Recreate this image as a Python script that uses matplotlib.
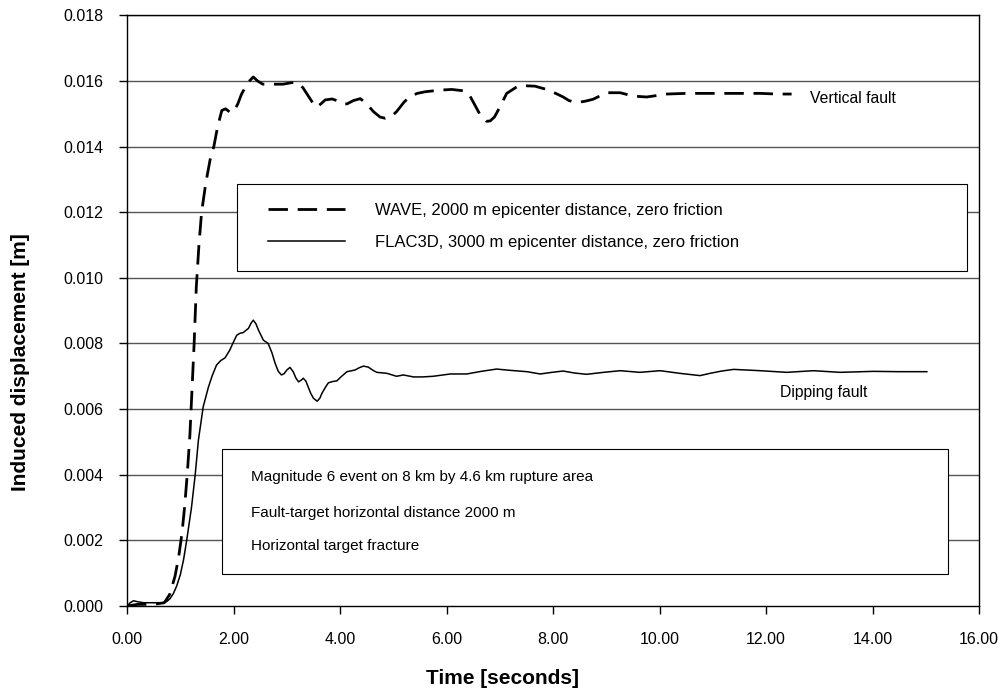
import numpy as np
import matplotlib.pyplot as plt

plt.rcParams['font.family'] = ['Liberation Sans', 'DejaVu Sans']

# WAVE, 2000 m epicenter distance (vertical fault)
wave_t = [0.0, 0.2, 0.5, 0.7, 0.8, 0.9, 0.97, 1.03, 1.08, 1.13, 1.18, 1.22,
          1.26, 1.30, 1.35, 1.40, 1.48, 1.56, 1.63, 1.70, 1.78, 1.85, 1.93,
          2.0, 2.08, 2.15, 2.22, 2.30, 2.37, 2.45, 2.55, 2.7, 2.93, 3.1, 3.2,
          3.3, 3.4, 3.5, 3.56, 3.64, 3.72, 3.85, 3.94, 4.05, 4.13, 4.25, 4.38,
          4.5, 4.63, 4.75, 4.85, 4.95, 5.06, 5.2, 5.31, 5.45, 5.6, 5.88, 6.10,
          6.31, 6.42, 6.50, 6.62, 6.75, 6.82, 6.90, 7.0, 7.13, 7.34, 7.5, 7.66,
          7.88, 8.05, 8.19, 8.3, 8.44, 8.6, 8.75, 9.01, 9.26, 9.45, 9.57, 9.76,
          10.14, 10.5, 10.76, 11.1, 11.38, 11.89, 12.2, 12.48]
wave_d = [0.0, 0.05, 0.05, 0.1, 0.35, 0.9, 1.5, 2.2, 3.0, 4.0, 5.2, 6.6,
          8.0, 9.7, 11.0, 12.0, 12.9, 13.6, 14.0, 14.6, 15.1, 15.15, 15.05,
          15.05, 15.3, 15.6, 15.8, 16.0, 16.12, 16.0, 15.9, 15.9, 15.9, 15.95,
          15.95, 15.8, 15.55, 15.3, 15.2, 15.3, 15.42, 15.45, 15.4, 15.3, 15.3,
          15.4, 15.46, 15.3, 15.06, 14.9, 14.86, 14.9, 15.06, 15.35, 15.52,
          15.62, 15.67, 15.72, 15.74, 15.7, 15.6, 15.36, 15.0, 14.77, 14.78,
          14.9, 15.2, 15.62, 15.84, 15.85, 15.84, 15.74, 15.62, 15.51, 15.4,
          15.34, 15.38, 15.44, 15.64, 15.64, 15.56, 15.53, 15.51, 15.6, 15.62,
          15.62, 15.62, 15.62, 15.62, 15.6, 15.6]

# FLAC3D, 3000 m epicenter distance (dipping fault)
flac_t = [0.0, 0.06, 0.12, 0.2, 0.31, 0.5, 0.68, 0.75, 0.81, 0.87, 0.93, 1.0,
          1.06, 1.12, 1.21, 1.28, 1.34, 1.43, 1.53, 1.60, 1.68, 1.76, 1.84,
          1.93, 2.0, 2.06, 2.12, 2.18, 2.28, 2.33, 2.37, 2.42, 2.47, 2.56,
          2.65, 2.72, 2.78, 2.84, 2.90, 2.95, 3.0, 3.06, 3.12, 3.17, 3.22,
          3.27, 3.31, 3.36, 3.40, 3.45, 3.50, 3.57, 3.62, 3.66, 3.72, 3.78,
          3.86, 3.94, 4.03, 4.13, 4.28, 4.36, 4.44, 4.53, 4.62, 4.69, 4.88,
          5.06, 5.19, 5.38, 5.55, 5.75, 6.07, 6.38, 6.65, 6.94, 7.2, 7.51,
          7.76, 7.98, 8.19, 8.4, 8.63, 8.95, 9.26, 9.63, 10.01, 10.38, 10.76,
          10.95, 11.17, 11.39, 11.89, 12.39, 12.89, 13.39, 14.02, 14.5, 15.02]
flac_d = [0.0, 0.1, 0.16, 0.13, 0.1, 0.1, 0.1, 0.14, 0.23, 0.38, 0.6, 0.95,
          1.4, 2.0, 3.0, 4.0, 5.05, 6.07, 6.68, 7.02, 7.34, 7.48, 7.56,
          7.8, 8.05, 8.25, 8.31, 8.33, 8.46, 8.62, 8.71, 8.6, 8.4, 8.1,
          8.0, 7.72, 7.4, 7.15, 7.04, 7.08, 7.19, 7.27, 7.14, 6.95, 6.83,
          6.88, 6.94, 6.85, 6.68, 6.48, 6.33, 6.24, 6.33, 6.48, 6.65, 6.8,
          6.84, 6.86, 7.0, 7.14, 7.19, 7.26, 7.31, 7.28, 7.18, 7.12, 7.09,
          7.0, 7.04, 6.98, 6.98, 7.0, 7.07, 7.07, 7.15, 7.22, 7.18, 7.14,
          7.07, 7.12, 7.16, 7.1, 7.06, 7.12, 7.17, 7.12, 7.17, 7.09, 7.02,
          7.09, 7.16, 7.21, 7.17, 7.12, 7.17, 7.12, 7.15, 7.14, 7.14]

wave_d = np.array(wave_d) / 1000.0
flac_d = np.array(flac_d) / 1000.0

info_lines = ["Magnitude 6 event on 8 km by 4.6 km rupture area",
              "Fault-target horizontal distance 2000 m",
              "Horizontal target fracture"]

fig = plt.figure(figsize=(9.98, 6.91), dpi=100)
ax = fig.add_axes([0.1273, 0.123, 0.8537, 0.8549])

for yv in np.arange(0.002, 0.0181, 0.002):
    ax.axhline(yv, color='#555555', lw=1.0, zorder=1)

ax.plot(wave_t, wave_d, color='black', lw=2.0, dashes=(7, 3.5),
        label='WAVE, 2000 m epicenter distance, zero friction', zorder=3)
ax.plot(flac_t, flac_d, color='black', lw=1.1,
        label='FLAC3D, 3000 m epicenter distance, zero friction', zorder=3)

ax.set_xlim(0, 16)
ax.set_ylim(0, 0.018)
ax.set_xticks(np.arange(0, 16.1, 2))
ax.set_yticks(np.arange(0, 0.0181, 0.002))
ax.set_xticklabels(['%.2f' % v for v in np.arange(0, 16.1, 2)])
ax.set_yticklabels(['%.3f' % v for v in np.arange(0, 0.0181, 0.002)])
ax.tick_params(direction='out', length=6, width=1, labelsize=11.5)
ax.tick_params(axis='x', pad=13)
ax.tick_params(axis='y', pad=11)
for s in ax.spines.values():
    s.set_linewidth(1.0)

ax.set_xlabel('Time [seconds]', fontsize=15, fontweight='bold')
ax.xaxis.set_label_coords(0.441, -0.106)
ax.set_ylabel('Induced displacement [m]', fontsize=15, fontweight='bold')
ax.yaxis.set_label_coords(-0.114, 0.413)

# legend box
ax.add_patch(plt.Rectangle((0.1291, 0.5671), 0.8568, 0.1473,
                           transform=ax.transAxes, facecolor='white',
                           edgecolor='black', lw=0.8, zorder=4))
leg = ax.legend(loc='upper left', bbox_to_anchor=(0.1655, 0.6830),
                frameon=False, fontsize=12, handlelength=4.6,
                handletextpad=1.8, labelspacing=1.05, borderpad=0,
                borderaxespad=0)
leg.set_zorder(5)

ax.text(12.83, 0.01545, 'Vertical fault', fontsize=11.3, va='center')
ax.text(12.26, 0.0065, 'Dipping fault', fontsize=11.3, va='center')

# info box
ax.add_patch(plt.Rectangle((0.1115, 0.0542), 0.852, 0.2116,
                           transform=ax.transAxes, facecolor='white',
                           edgecolor='black', lw=0.8, zorder=4))
info_y = [0.2189, 0.1580, 0.1016]
for line, yy in zip(info_lines, info_y):
    ax.text(0.1455, yy, line, transform=ax.transAxes,
            fontsize=11, va='center', zorder=5)

fig.savefig('out.png', dpi=100)
